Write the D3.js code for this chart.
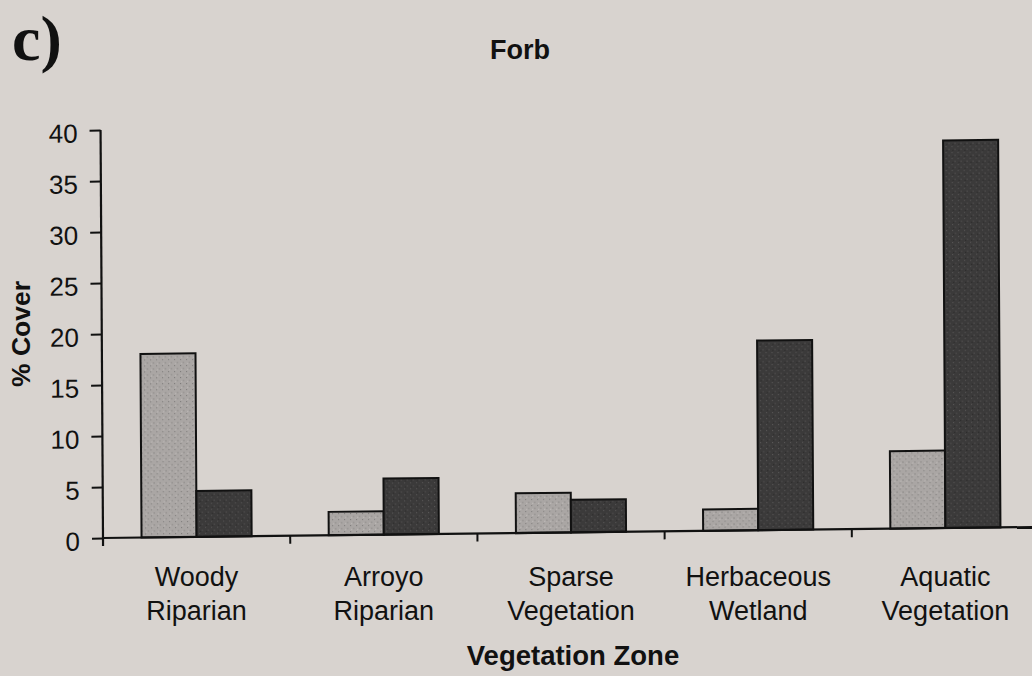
<!DOCTYPE html>
<html><head><meta charset="utf-8">
<script src="https://cdn.jsdelivr.net/npm/d3@7"></script>
<style>
html,body{margin:0;padding:0;background:#d8d3cf;}
svg{display:block;}
</style></head>
<body>
<svg id="chart" width="1032" height="676"></svg>
<script>
const categories = [["Woody","Riparian"],["Arroyo","Riparian"],["Sparse","Vegetation"],["Herbaceous","Wetland"],["Aquatic","Vegetation"]];
const seriesNames = ["Series A","Series B"];
const seriesA = [18, 2.3, 3.9, 2.1, 7.6];
const seriesB = [4.5, 5.5, 3.2, 18.6, 38];
const yTicks = [0,5,10,15,20,25,30,35,40];
const title = "Forb";
const panelLabel = "c)";
const xTitle = "Vegetation Zone";
const yTitle = "% Cover";

const svg = d3.select("#chart");
const W = 1032, H = 676;
const m = {left:103, top:130, bottom:538};
const catKeys = categories.map(c => c.join(" "));

svg.append("rect").attr("width",W).attr("height",H).attr("fill","#d8d3cf");

const defs = svg.append("defs");
function stipple(id, base, dot, n){
  const p = defs.append("pattern").attr("id",id).attr("patternUnits","userSpaceOnUse").attr("width",6).attr("height",6);
  p.append("rect").attr("width",6).attr("height",6).attr("fill",base);
  p.append("rect").attr("x",0).attr("y",0).attr("width",1).attr("height",1).attr("fill",dot);
  p.append("rect").attr("x",3).attr("y",3).attr("width",1).attr("height",1).attr("fill",dot);
  p.append("rect").attr("x",1).attr("y",4).attr("width",1).attr("height",1).attr("fill",n);
}
stipple("pA","#aaa6a4","#7e7b7a","#c4c0be");
stipple("pB","#3b3a3a","#5a5858","#262525");

// slight scan skew of the original page
const root = svg.append("g")
  .attr("transform",`translate(${m.left},${m.bottom}) matrix(1,-0.0118,0.006,1,0,0) translate(${-m.left},${-m.bottom})`);

const x = d3.scaleBand().domain(catKeys).range([m.left, m.left + 5*187.2]).paddingInner(0).paddingOuter(0);
const xs = d3.scaleBand().domain(seriesNames).range([0, x.bandwidth()]).paddingInner(0).paddingOuter(0.7);
const y = d3.scaleLinear().domain([0,40]).range([m.bottom, m.top]);

const data = catKeys.map((k,i)=>({k, vals:[{s:seriesNames[0],v:seriesA[i]},{s:seriesNames[1],v:seriesB[i]}]}));

root.append("g").selectAll("g.cat").data(data).join("g").attr("class","cat")
  .attr("transform", d => `translate(${x(d.k)},0)`)
  .selectAll("rect").data(d=>d.vals).join("rect")
  .attr("x", d => xs(d.s)).attr("width", xs.bandwidth())
  .attr("y", d => y(d.v)).attr("height", d => y(0)-y(d.v))
  .attr("fill", d => d.s===seriesNames[0] ? "url(#pA)" : "url(#pB)")
  .attr("stroke","#111").attr("stroke-width",2);

const font = "Liberation Sans, Arial, sans-serif";

// y axis
const yAxis = d3.axisLeft(y).tickValues(yTicks).tickSize(11).tickPadding(12).tickSizeOuter(0);
const ya = root.append("g").attr("transform",`translate(${m.left},0)`).call(yAxis);
ya.select(".domain").attr("stroke","#111").attr("stroke-width",2.2).attr("d",`M0,${m.top}V${m.bottom+8}`);
ya.selectAll(".tick line").attr("stroke","#111").attr("stroke-width",2);
ya.selectAll(".tick text").attr("font-family",font).attr("font-size",26).attr("fill","#111").attr("dy","0.45em");

// x axis
const xa = root.append("g").attr("transform",`translate(0,${m.bottom})`);
xa.append("line").attr("x1",m.left).attr("x2",W+20).attr("y1",0).attr("y2",0).attr("stroke","#111").attr("stroke-width",2.2);
const bounds = catKeys.map(k => x(k) + x.bandwidth());
xa.selectAll("line.tk").data(bounds).join("line").attr("class","tk")
  .attr("x1",d=>d).attr("x2",d=>d).attr("y1",0).attr("y2",8).attr("stroke","#111").attr("stroke-width",2);

// category labels (not skewed so much; keep in root for consistency)
const lab = svg.append("g").selectAll("text.cl").data(categories).join("text").attr("class","cl")
  .attr("x",(d,i)=>x(catKeys[i]) + x.bandwidth()/2)
  .attr("text-anchor","middle").attr("font-family",font).attr("font-size",27).attr("fill","#111");
lab.selectAll("tspan").data(d=>d).join("tspan")
  .attr("x",function(){return this.parentNode.getAttribute("x");})
  .attr("y",(d,i,nodes)=> 586 + i*34)
  .text(d=>d);

// titles
svg.append("text").attr("x",520).attr("y",59).attr("text-anchor","middle")
  .attr("font-family",font).attr("font-weight","bold").attr("font-size",27).attr("fill","#111").text(title);
svg.append("text").attr("x",573).attr("y",665).attr("text-anchor","middle")
  .attr("font-family",font).attr("font-weight","bold").attr("font-size",27.5).attr("fill","#111").text(xTitle);
svg.append("text").attr("transform","translate(30,334) rotate(-90)").attr("text-anchor","middle")
  .attr("font-family",font).attr("font-weight","bold").attr("font-size",26.5).attr("fill","#111").text(yTitle);
svg.append("text").attr("x",12).attr("y",60)
  .attr("font-family","Liberation Serif, Times New Roman, serif").attr("font-weight","bold").attr("font-size",64).attr("fill","#111").text(panelLabel);
</script>
</body></html>
